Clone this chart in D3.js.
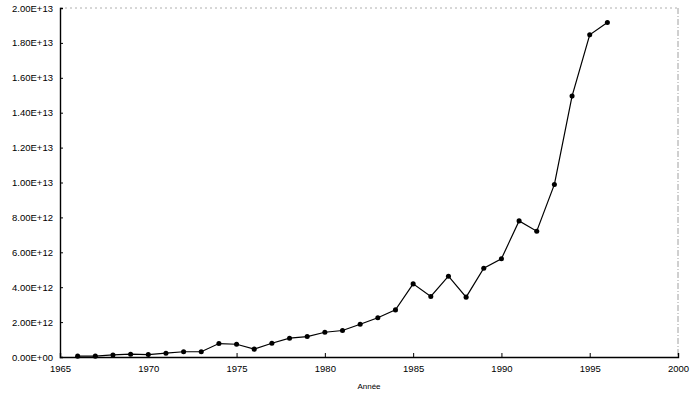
<!DOCTYPE html>
<html>
<head>
<meta charset="utf-8">
<script src="https://cdn.jsdelivr.net/npm/d3@7"></script>
<style>
  body { margin: 0; background: #fff; }
  svg { display: block; }
</style>
</head>
<body>
<svg id="chart" width="700" height="395"></svg>
<script>
// values
var years = [1966, 1967, 1968, 1969, 1970, 1971, 1972, 1973, 1974, 1975,
             1976, 1977, 1978, 1979, 1980, 1981, 1982, 1983, 1984, 1985,
             1986, 1987, 1988, 1989, 1990, 1991, 1992, 1993, 1994, 1995, 1996];
var values = [0.05e12, 0.05e12, 0.12e12, 0.16e12, 0.14e12, 0.22e12, 0.30e12, 0.30e12, 0.77e12, 0.73e12,
              0.45e12, 0.79e12, 1.08e12, 1.17e12, 1.42e12, 1.52e12, 1.88e12, 2.25e12, 2.70e12, 4.19e12,
              3.47e12, 4.63e12, 3.43e12, 5.09e12, 5.63e12, 7.80e12, 7.21e12, 9.89e12, 14.95e12, 18.46e12, 19.17e12];
var xTicks = [1965, 1970, 1975, 1980, 1985, 1990, 1995, 2000];
var yTicks = [0, 2e12, 4e12, 6e12, 8e12, 1e13, 1.2e13, 1.4e13, 1.6e13, 1.8e13, 2e13];
var xTitle = "Année";

var margin = {top: 8, right: 22, bottom: 38, left: 60},
    width = 700 - margin.left - margin.right,
    height = 395 - margin.top - margin.bottom;

var svg = d3.select("#chart");
var g = svg.append("g").attr("transform", "translate(" + margin.left + "," + margin.top + ")");

var x = d3.scaleLinear().domain([1965, 2000]).range([0, width]);
var y = d3.scaleLinear().domain([0, 2e13]).range([height, 0]);

// "2.00E+13" style labels
function sci(v) {
  var s = v.toExponential(2).toUpperCase();
  var parts = s.split("E");
  var sign = parts[1].charAt(0);
  var exp = parts[1].slice(1);
  if (exp.length < 2) exp = "0" + exp;
  return parts[0] + "E" + sign + exp;
}

// faint frame on top and right
g.append("line")
  .attr("x1", 0).attr("x2", width).attr("y1", 0).attr("y2", 0)
  .style("stroke", "#999").style("stroke-width", 0.8).style("stroke-dasharray", "2,3");
g.append("line")
  .attr("x1", width).attr("x2", width).attr("y1", 0).attr("y2", height)
  .style("stroke", "#888").style("stroke-width", 0.8).style("stroke-dasharray", "6,2,1,2");

var yAxis = g.append("g")
  .call(d3.axisLeft(y).tickValues(yTicks).tickFormat(sci).tickSize(-3).tickPadding(7));
var xAxis = g.append("g")
  .attr("transform", "translate(0," + height + ")")
  .call(d3.axisBottom(x).tickValues(xTicks).tickFormat(d3.format("d")).tickSize(-4).tickPadding(8));

[yAxis, xAxis].forEach(function(a) {
  a.select(".domain").style("stroke", "#000").style("stroke-width", 1.4);
  a.selectAll(".tick line").style("stroke", "#000");
  a.selectAll("text")
    .attr("font-family", "'Liberation Sans', Arial, sans-serif")
    .attr("font-size", "9.5px")
    .style("fill", "#000");
});

g.append("text")
  .attr("x", width / 2)
  .attr("y", height + 32)
  .attr("text-anchor", "middle")
  .attr("font-family", "'Liberation Sans', Arial, sans-serif")
  .attr("font-size", "8px")
  .text(xTitle);

var data = years.map(function(d, i) { return {year: d, value: values[i]}; });

var line = d3.line()
  .x(function(d) { return x(d.year); })
  .y(function(d) { return y(d.value); });

g.append("path")
  .datum(data)
  .attr("d", line)
  .style("fill", "none")
  .style("stroke", "#000")
  .style("stroke-width", 1.2);

g.selectAll(".pt").data(data).enter()
  .append("path")
    .attr("class", "pt")
    .attr("transform", function(d) { return "translate(" + x(d.year) + "," + y(d.value) + ")"; })
    .attr("d", d3.symbol().type(d3.symbolCircle).size(20))
    .style("fill", "#000");
</script>
</body>
</html>
